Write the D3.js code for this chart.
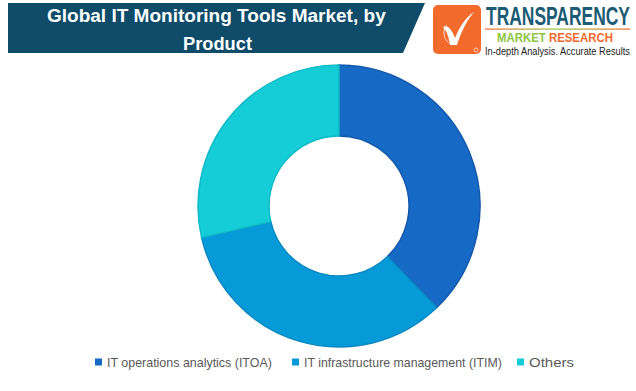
<!DOCTYPE html>
<html>
<head>
<meta charset="utf-8">
<script src="https://cdn.jsdelivr.net/npm/d3@7"></script>
<style>
  html, body { margin: 0; padding: 0; background: #ffffff; }
  svg { display: block; }
</style>
</head>
<body>
<svg id="chart" width="636" height="391"></svg>
<script>
const categories = ["IT operations analytics (ITOA)", "IT infrastructure management (ITIM)", "Others"];
const values = [37.8, 33.6, 28.6];
const colors = ["#1669c5", "#069bd8", "#15cdd7"];
const strokes = ["#1259ab", "#0a88c2", "#10bac8"];
const titleLines = ["Global IT Monitoring Tools Market, by", "Product"];

const svg = d3.select("#chart");
const FONT = "Liberation Sans, Arial, sans-serif";

// place a start-anchored text and squeeze it horizontally to a target width
function fitText(sel, x, y, width) {
  const len = sel.node().getComputedTextLength();
  const k = len > 0 ? width / len : 1;
  sel.attr("x", 0).attr("y", 0)
    .attr("transform", `translate(${x},${y}) scale(${k},1)`);
  return sel;
}

// Title banner
svg.append("path")
  .attr("d", "M8,3 L425,3 L403,53 L8,53 Z")
  .attr("fill", "#0e4c69");
const t1 = svg.append("text").attr("font-family", FONT).attr("font-weight", "bold")
  .attr("font-size", 18.5).attr("fill", "#ffffff").text(titleLines[0]);
fitText(t1, 47, 22, 339);
const t2 = svg.append("text").attr("font-family", FONT).attr("font-weight", "bold")
  .attr("font-size", 18.5).attr("fill", "#ffffff").text(titleLines[1]);
fitText(t2, 183, 50, 69);

// Logo
const logo = svg.append("g");
logo.append("rect").attr("x", 433).attr("y", 5).attr("width", 48).attr("height", 49)
  .attr("rx", 5).attr("fill", "#f26a2c");
logo.append("path")
  .attr("d", "M443,27 C448,24 452,30 455,38 C460,26 466,17 474,12 C467,20 461,32 457,45 C454,45 452,45 450,45 C449,38 447,31 443,27 Z")
  .attr("fill", "#ffffff");
logo.append("path")
  .attr("d", "M447,24 C440,30 444,44 455,46 C446,44 441,33 447,24 Z")
  .attr("fill", "#ffffff");
logo.append("circle").attr("cx", 476).attr("cy", 50).attr("r", 2).attr("fill", "none")
  .attr("stroke", "#ffffff").attr("stroke-width", 0.6);

const grad = svg.append("defs").append("linearGradient").attr("id", "lg");
grad.append("stop").attr("offset", "0%").attr("stop-color", "#f26a2c");
grad.append("stop").attr("offset", "50%").attr("stop-color", "#8dc63f");
grad.append("stop").attr("offset", "100%").attr("stop-color", "#f26a2c");

const tr = svg.append("text").attr("font-family", FONT).attr("font-weight", "bold")
  .attr("font-size", 25).attr("fill", "#1c5b74").text("TRANSPARENCY");
fitText(tr, 486, 25, 144);
svg.append("rect").attr("x", 485).attr("y", 28.5).attr("width", 145).attr("height", 1.2)
  .attr("fill", "url(#lg)");
const mr = svg.append("text").attr("font-family", FONT).attr("font-weight", "bold")
  .attr("font-size", 13.5);
mr.append("tspan").attr("fill", "#8dc63f").text("MARKET ");
mr.append("tspan").attr("fill", "#f26a2c").text("RESEARCH");
fitText(mr, 497, 42, 116);
const ind = svg.append("text").attr("font-family", FONT)
  .attr("font-size", 11).attr("fill", "#222222")
  .text("In-depth Analysis. Accurate Results");
fitText(ind, 485, 55, 145);

// Donut
const cx = 339, cy = 206, rOuter = 141, rInner = 70;
const pie = d3.pie().sort(null).value(d => d);
const arc = d3.arc().innerRadius(rInner).outerRadius(rOuter);
const g = svg.append("g").attr("transform", `translate(${cx},${cy})`);
g.selectAll("path").data(pie(values)).join("path")
  .attr("d", arc)
  .attr("fill", (d, i) => colors[i])
  .attr("stroke", (d, i) => strokes[i])
  .attr("stroke-width", 1.5);

// Legend
const legendX = [95, 292, 517];
const legendW = [165, 198, 45];
const leg = svg.append("g");
categories.forEach((c, i) => {
  leg.append("rect").attr("x", legendX[i]).attr("y", 358.5).attr("width", 7).attr("height", 7)
    .attr("fill", colors[i]);
  const t = leg.append("text")
    .attr("font-family", FONT)
    .attr("font-size", 12.5).attr("fill", "#595959")
    .text(c);
  fitText(t, legendX[i] + 12, 366.5, legendW[i]);
});
</script>
</body>
</html>
